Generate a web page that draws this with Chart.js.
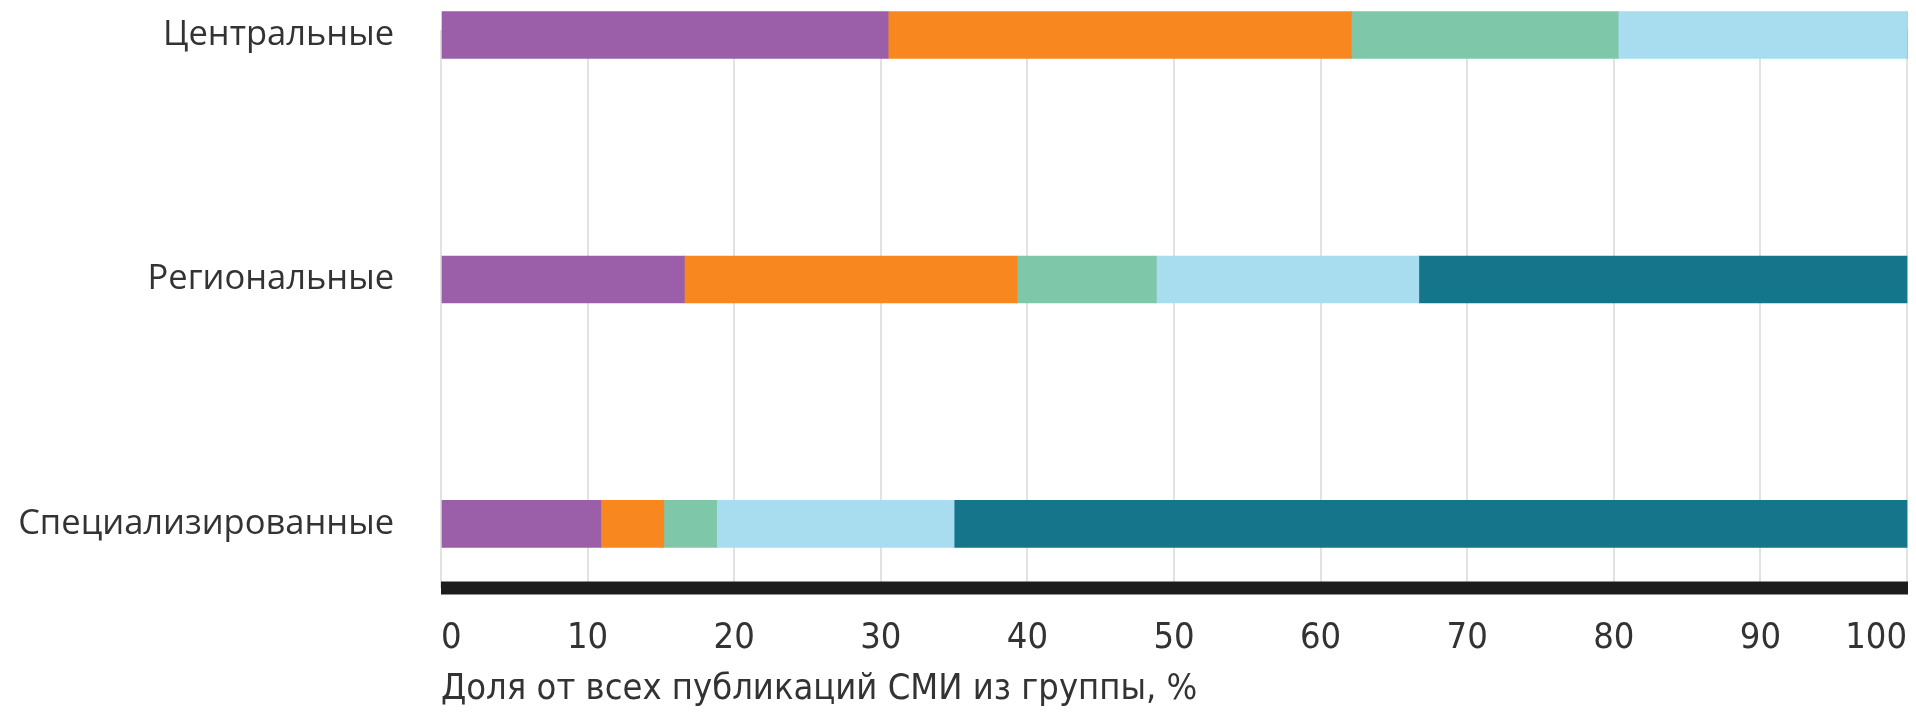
<!DOCTYPE html>
<html>
<head>
<meta charset="utf-8">
<script src="https://cdn.jsdelivr.net/npm/chart.js@4/dist/chart.umd.min.js"></script>
<style>
  html, body { margin: 0; padding: 0; background: #ffffff; }
  #wrap { width: 1916px; height: 712px; position: relative; }
  canvas { display: block; }
</style>
</head>
<body>
<div id="wrap"><canvas id="c" width="1916" height="712"></canvas></div>
<script>
// ---- data ----
const categories = ['Центральные', 'Региональные', 'Специализированные'];
const seriesNames = ['Группа 1', 'Группа 2', 'Группа 3', 'Группа 4', 'Группа 5'];
const series1 = [30.5, 16.6, 10.9];
const series2 = [31.6, 22.7, 4.3];
const series3 = [18.2, 9.5, 3.6];
const series4 = [19.7, 17.9, 16.2];
const series5 = [0, 33.3, 65.0];
const xTicks = [0, 10, 20, 30, 40, 50, 60, 70, 80, 90, 100];
const axisTitle = 'Доля от всех публикаций СМИ из группы, %';

// ---- styles ----
const colors = ['#9b5ea8', '#f8871f', '#7ec8a9', '#a8dcef', '#15758b'];
const allSeries = [series1, series2, series3, series4, series5];

const datasets = allSeries.map((vals, si) => ({
  label: seriesNames[si],
  data: vals.map((v, i) => ({ x: v, y: i })),
  backgroundColor: colors[si],
  borderWidth: 0,
  barThickness: 47,
  clip: false
}));

const labelFont = { family: "'Open Sans', 'Noto Sans', sans-serif", size: 34.5 };
const narrowFamily = "'DejaVu Sans Condensed', 'Liberation Sans Narrow', 'DejaVu Sans', sans-serif";

function zeroPad(s) {
  s.paddingTop = 0; s.paddingBottom = 0; s.paddingLeft = 0; s.paddingRight = 0;
}

// thick black baseline of the x axis, spanning exactly the x scale
const axisLine = {
  id: 'axisLine',
  afterDatasetsDraw(chart) {
    const xs = chart.scales.x;
    const ctx = chart.ctx;
    ctx.save();
    ctx.fillStyle = '#1c1c1c';
    ctx.fillRect(xs.left, xs.top - 6.5, xs.right - xs.left + 1, 13);
    ctx.restore();
  }
};

new Chart(document.getElementById('c'), {
  type: 'bar',
  data: { datasets },
  plugins: [axisLine],
  options: {
    indexAxis: 'y',
    responsive: false,
    animation: false,
    devicePixelRatio: 1,
    layout: { padding: { top: 30, right: 9, bottom: 0, left: 0 } },
    plugins: { legend: { display: false }, tooltip: { enabled: false } },
    scales: {
      x: {
        type: 'linear',
        stacked: true,
        min: 0,
        max: 100,
        afterBuildTicks: (s) => { s.ticks = xTicks.map(v => ({ value: v })); },
        afterFit: (s) => { s.height = 124; zeroPad(s); },
        grid: { color: '#e2e2e2', lineWidth: 2, drawTicks: false },
        border: { display: false },
        ticks: {
          align: 'inner',
          padding: 29,
          color: '#333333',
          font: { family: narrowFamily, size: 36 }
        },
        title: {
          display: true,
          text: axisTitle,
          align: 'start',
          color: '#333333',
          font: { family: narrowFamily, size: 36, lineHeight: 1.2 },
          padding: { top: 0, bottom: 1 }
        }
      },
      y: {
        type: 'linear',
        stacked: true,
        reverse: true,
        offset: false,
        min: -0.0204,
        max: 2.262,
        afterBuildTicks: (s) => { s.ticks = categories.map((_, i) => ({ value: i })); },
        afterFit: (s) => { s.width = 441; zeroPad(s); },
        grid: { display: false, drawTicks: false, offset: false },
        border: { display: false },
        ticks: {
          padding: 47,
          color: '#333333',
          font: labelFont,
          callback: (v) => categories[v]
        }
      }
    }
  }
});
</script>
</body>
</html>
